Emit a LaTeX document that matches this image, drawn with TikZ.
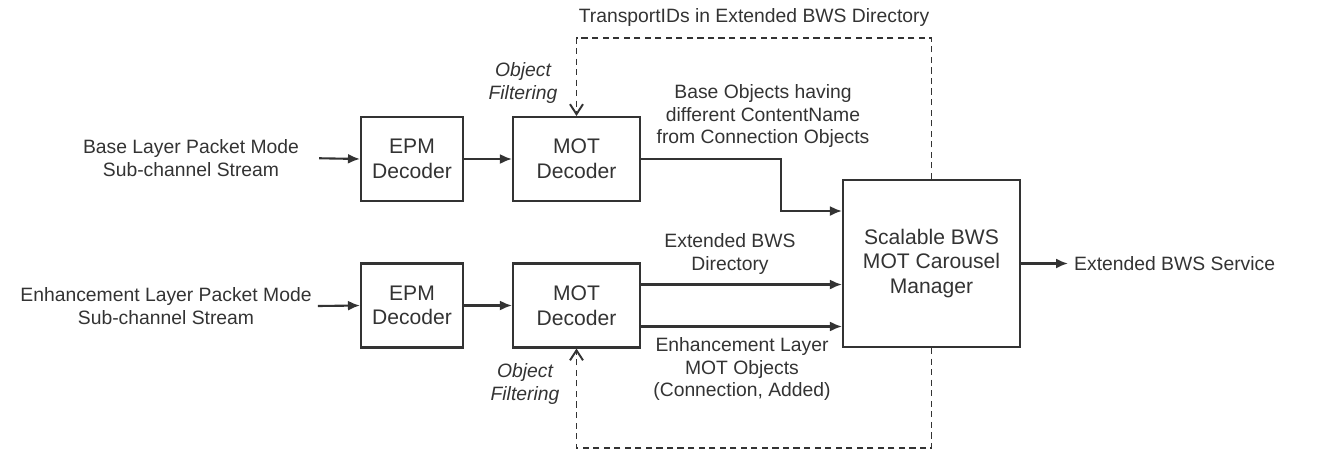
\documentclass[tikz,border=0pt]{standalone}
\usepackage{fontspec}
\setmainfont{Liberation Sans}
\usepackage{tikz}
\usetikzlibrary{arrows.meta, positioning}
\tikzstyle{block} = [rectangle, draw=black!80, line width=1.2pt, minimum height=1.68cm, text centered, align=center, inner sep=2pt, font=\fontsize{12}{14}\selectfont, text=black!80]
\tikzstyle{epm} = [block, minimum width=2.04cm]
\tikzstyle{mot} = [block, minimum width=2.54cm]
\tikzstyle{manager} = [block, minimum width=3.54cm, minimum height=3.34cm]
\tikzstyle{txt} = [align=center, font=\fontsize{11}{13}\selectfont, text=black!80]
\tikzstyle{filter} = [txt, font=\fontsize{11}{13}\selectfont\itshape]
\tikzstyle{arrow} = [line width=1.2pt, draw=black!80, -{Latex[length=2.4mm, width=2mm]}]
\tikzstyle{feedback} = [line width=1.1pt, draw=black!80, dash pattern=on 3.5pt off 2.5pt, -{Straight Barb[length=2mm, width=2.6mm]}]

\begin{document}
\begin{tikzpicture}[x=0.02cm, y=-0.02cm]
    \useasboundingbox (0,0) rectangle (1320,460);

    % inputs
    \node (inBase) [txt] at (191,158) {Base Layer Packet Mode\\Sub-channel Stream};
    \node (inEnh) [txt] at (166,306) {Enhancement Layer Packet Mode\\Sub-channel Stream};

    % decoders
    \node (epmBase) [epm] at (412,159) {EPM\\Decoder};
    \node (epmEnh) [epm] at (412,305.5) {EPM\\Decoder};
    \node (motBase) [mot] at (576.5,159) {MOT\\Decoder};
    \node (motEnh) [mot] at (576.5,305.5) {MOT\\Decoder};
    \node (carousel) [manager] at (931.5,263.5) {Scalable BWS\\MOT Carousel\\Manager};
    \node (service) [txt, anchor=west] at (1068,263.5) {Extended BWS Service};

    % labels
    \node (transIDs) [txt] at (754,18) {TransportIDs in Extended BWS Directory};
    \node (filtBase) [filter] at (523,83) {Object\\Filtering};
    \node (filtEnh) [filter] at (525,384) {Object\\Filtering};
    \node (baseObj) [txt] at (763,116) {Base Objects having\\different ContentName\\from Connection Objects};
    \node (extDir) [txt] at (730,254) {Extended BWS\\Directory};
    \node (enhObj) [txt] at (742,369) {Enhancement Layer\\MOT Objects\\(Connection, Added)};

    % connectors
    \draw [arrow, shorten <=0.28cm] (inBase.east) -- (epmBase.west);
    \draw [arrow] (inEnh.east) -- (epmEnh.west);
    \draw [arrow] (epmBase) -- (motBase);
    \draw [arrow] (epmEnh) -- (motEnh);

    \draw [arrow] (motBase.east) -- ++(140,0) |- ([yshift=1.05cm]carousel.west);
    \draw [arrow] ([yshift=0.42cm]motEnh.east) -- ([yshift=0.42cm]motEnh.east -| carousel.west);
    \draw [arrow] ([yshift=-0.42cm]motEnh.east) -- ([yshift=-0.42cm]motEnh.east -| carousel.west);
    \draw [arrow] (carousel.east) -- (service.west);

    \draw [feedback] (carousel.north) -- ++(0,-141) -| (motBase.north);
    \draw [feedback] (carousel.south) -- ++(0,100) -| (motEnh.south);
\end{tikzpicture}
\end{document}
